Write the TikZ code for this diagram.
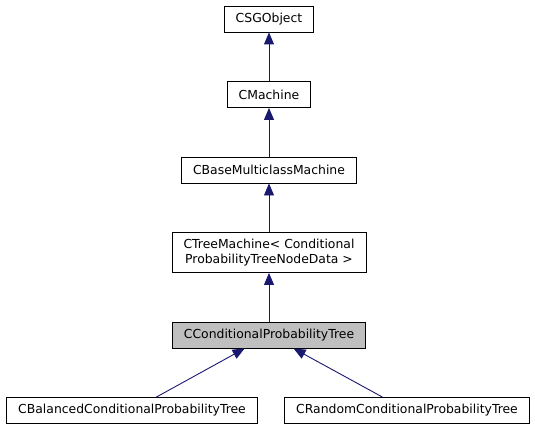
\documentclass[tikz,border=0pt]{standalone}
\usepackage{fontspec}
\setmainfont{DejaVu Sans}
\usepackage{tikz}
\usetikzlibrary{arrows.meta,positioning}
\definecolor{edgeblue}{RGB}{25,25,112}
\definecolor{curgrey}{RGB}{191,191,191}

\begin{document}
\begin{tikzpicture}[
  x=1pt, y=1pt,
  every node/.style={font=\fontsize{12.4}{15}\selectfont},
  node distance=48.6pt,
  cls/.style={draw=black, line width=0.9pt, fill=white, rectangle,
              minimum height=26pt, inner xsep=11.5pt, inner ysep=3pt, align=center},
  cur/.style={cls, fill=curgrey},
  inh/.style={-{Triangle[length=12pt, width=10pt]}, edgeblue, line width=0.9pt},
]
\useasboundingbox (0,0) rectangle (535,-425);

\node[cls] (sgo) at (269,-19) {CSGObject};
\node[cls, below=of sgo] (mach) {CMachine};
\node[cls, below=of mach] (bmm) {CBaseMulticlassMachine};
\node[cls, below=of bmm, minimum height=40pt] (tree) {CTreeMachine< Conditional\\ProbabilityTreeNodeData >};
\node[cur, below=of tree] (cpt) {CConditionalProbabilityTree};
\node[cls, below=of cpt, xshift=-137pt] (bal) {CBalancedConditionalProbabilityTree};
\node[cls, below=of cpt, xshift=138pt] (rnd) {CRandomConditionalProbabilityTree};

% inheritance arrows, child to parent
\draw[inh] (mach) -- (sgo);
\draw[inh] (bmm) -- (mach);
\draw[inh] (tree) -- (bmm);
\draw[inh] (cpt) -- (tree);
\draw[inh] (bal) -- (cpt);
\draw[inh] (rnd) -- (cpt);
\end{tikzpicture}
\end{document}
